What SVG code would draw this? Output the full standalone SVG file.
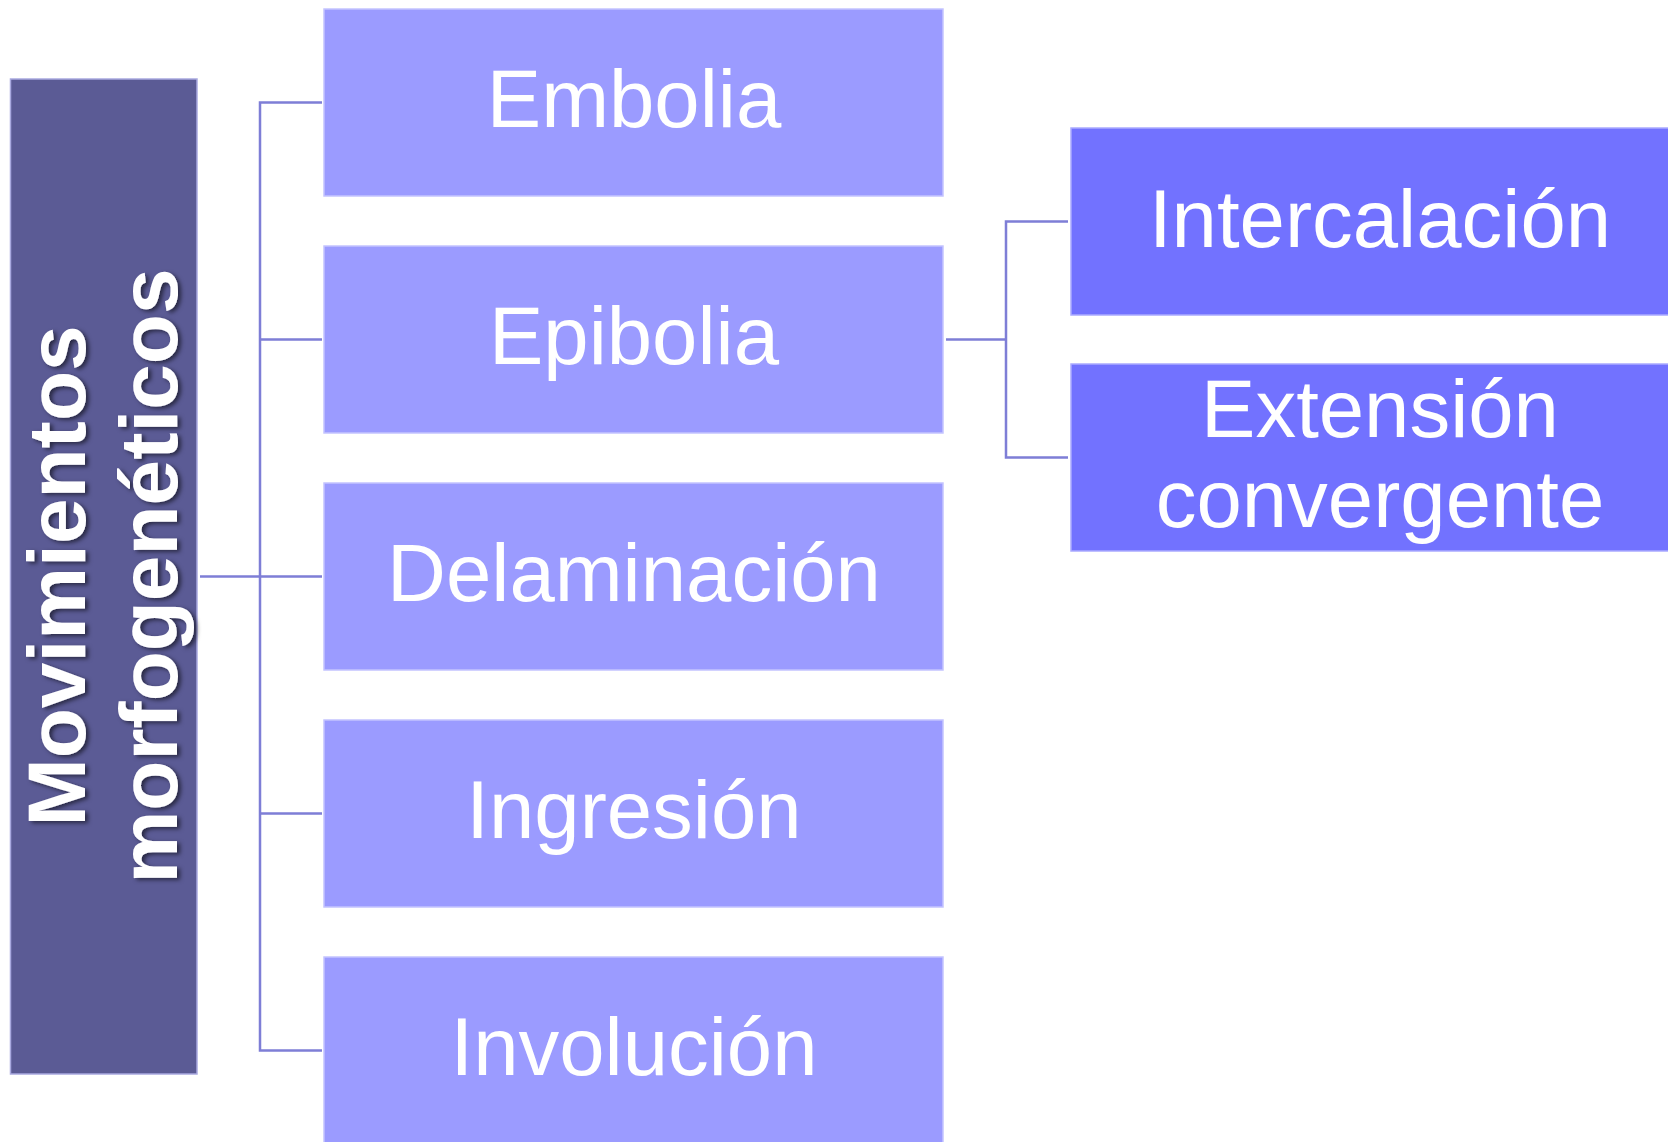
<svg xmlns="http://www.w3.org/2000/svg" width="1668" height="1142" viewBox="0 0 1668 1142">
<style>
.root{fill:#5B5B95;stroke:#A9A9E0;stroke-width:1.5}
.mid{fill:#9B9BFF;stroke:#C4C4FF;stroke-width:1.5}
.sub{fill:#7272FF;stroke:#ABABFF;stroke-width:1.5}
.lbl{font-family:"Liberation Sans",Arial,sans-serif;font-size:81.5px;fill:#FFFFFF;text-anchor:middle}
.rlbl{font-family:"Liberation Sans",Arial,sans-serif;font-size:82px;font-weight:bold;fill:#FFFFFF;text-anchor:middle}
.con{fill:none;stroke:#7E7ED6;stroke-width:2.5}
</style>
<defs>
<filter id="sh" x="-10%" y="-10%" width="120%" height="120%">
<feDropShadow dx="3" dy="2" stdDeviation="2" flood-color="#000" flood-opacity="0.55"/>
</filter>
</defs>
<rect width="1668" height="1142" fill="#FFFFFF"/>
<g id="connectors">
<path class="con" d="M200 576.5H260"/>
<path class="con" d="M322 102.5H260V1050.5H322"/>
<path class="con" d="M260 339.5H322M260 576.5H322M260 813.5H322"/>
<path class="con" d="M946 339.5H1006"/>
<path class="con" d="M1068 221.5H1006V457.5H1068"/>
</g>
<g id="node-root">
<rect class="root" x="10.5" y="79" width="186.5" height="995"/>
<g filter="url(#sh)">
<text class="rlbl" transform="translate(85,576) rotate(-90)">Movimientos</text>
<text class="rlbl" transform="translate(177,576) rotate(-90)">morfogenéticos</text>
</g>
</g>
<g id="node-embolia">
<rect class="mid" x="324" y="9" width="619" height="187"/>
<text class="lbl" x="634" y="127">Embolia</text>
</g>
<g id="node-epibolia">
<rect class="mid" x="324" y="246" width="619" height="187"/>
<text class="lbl" x="634" y="364">Epibolia</text>
</g>
<g id="node-delaminacion">
<rect class="mid" x="324" y="483" width="619" height="187"/>
<text class="lbl" x="634" y="601">Delaminación</text>
</g>
<g id="node-ingresion">
<rect class="mid" x="324" y="720" width="619" height="187"/>
<text class="lbl" x="634" y="838">Ingresión</text>
</g>
<g id="node-involucion">
<rect class="mid" x="324" y="957" width="619" height="187"/>
<text class="lbl" x="634" y="1075">Involución</text>
</g>
<g id="node-intercalacion">
<rect class="sub" x="1071" y="128" width="640" height="187"/>
<text class="lbl" x="1380" y="247">Intercalación</text>
</g>
<g id="node-extension">
<rect class="sub" x="1071" y="364" width="640" height="187"/>
<text class="lbl" x="1380" y="437">Extensión</text>
<text class="lbl" x="1380" y="527">convergente</text>
</g>
</svg>
